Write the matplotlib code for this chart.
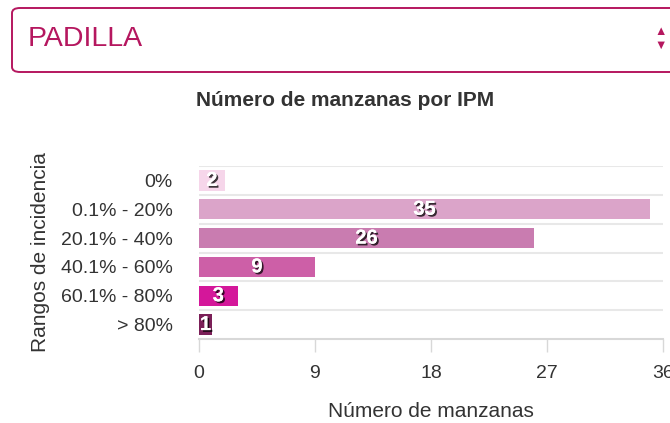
# Número de manzanas por IPM - horizontal bar chart with dropdown header
import matplotlib.pyplot as plt
import matplotlib.patheffects as pe
from matplotlib.patches import FancyBboxPatch
import numpy as np

plt.rcParams['font.family'] = ['Liberation Sans', 'DejaVu Sans']

categories = ['0%', '0.1% - 20%', '20.1% - 40%', '40.1% - 60%', '60.1% - 80%', '> 80%']
values = [2, 35, 26, 9, 3, 1]
bar_colors = ['#f6d6ea', '#dba4c9', '#c97cb0', '#cd5fa7', '#d4179a', '#7b1f58']
x_ticks = [0, 9, 18, 27, 36]

fig = plt.figure(figsize=(6.7, 4.23), dpi=100)

# dropdown box on top
box = FancyBboxPatch((12 / 670, 1 - 72 / 423), 700 / 670, 64 / 423,
                     boxstyle='round,pad=0,rounding_size=0.012', transform=fig.transFigure,
                     facecolor='white', edgecolor='#b5175f', linewidth=1.4, clip_on=False)
fig.patches.append(box)
fig.text(28 / 670, 1 - 39 / 423, 'PADILLA', color='#b5175f', fontsize=20.5, va='center', ha='left')
fig.text(661 / 670, 1 - 32 / 423, '▲', color='#b5175f', fontsize=9, va='center', ha='center')
fig.text(661 / 670, 1 - 46 / 423, '▼', color='#b5175f', fontsize=9, va='center', ha='center')

ax = fig.add_axes([199 / 670, 1 - 339 / 423, 464 / 670, 173 / 423])
y = np.arange(len(categories))
ax.barh(y, values, height=0.7, color=bar_colors)

for yi, v in zip(y, values):
    t = ax.text(v / 2, yi, str(v), ha='center', va='center', color='white',
                fontsize=14.5, fontweight='bold')
    t.set_path_effects([pe.withSimplePatchShadow(offset=(1.3, -1.3), shadow_rgbFace='black', alpha=0.75),
                        pe.Normal()])

ax.set_ylim(len(categories) - 0.5, -0.5)
ax.set_xlim(0, 36)
ax.set_yticks(y)
ax.set_yticklabels(categories, fontsize=14, color='#333333')
ax.set_xticks(x_ticks)
ax.tick_params(axis='y', length=0, pad=19)
ax.tick_params(axis='x', length=9, color='#d8d8d8', width=1, labelsize=14, labelcolor='#333333', pad=10)

# horizontal separators between categories
for b in np.arange(-0.5, len(categories) - 0.5, 1):
    ax.axhline(b, color='#e8e8e8', linewidth=1.5, zorder=0)

for s in ['top', 'right', 'left']:
    ax.spines[s].set_visible(False)
ax.spines['bottom'].set_color('#d8d8d8')
ax.spines['bottom'].set_linewidth(1.5)

ax.set_xlabel('Número de manzanas', fontsize=15, color='#333333', labelpad=14)
ax.set_ylabel('Rangos de incidencia', fontsize=15, color='#333333', labelpad=8)
fig.text(345 / 670, 1 - 101 / 423, 'Número de manzanas por IPM', ha='center', va='center',
         fontsize=15, fontweight='bold', color='#333333')

plt.savefig('out.png', dpi=100)
